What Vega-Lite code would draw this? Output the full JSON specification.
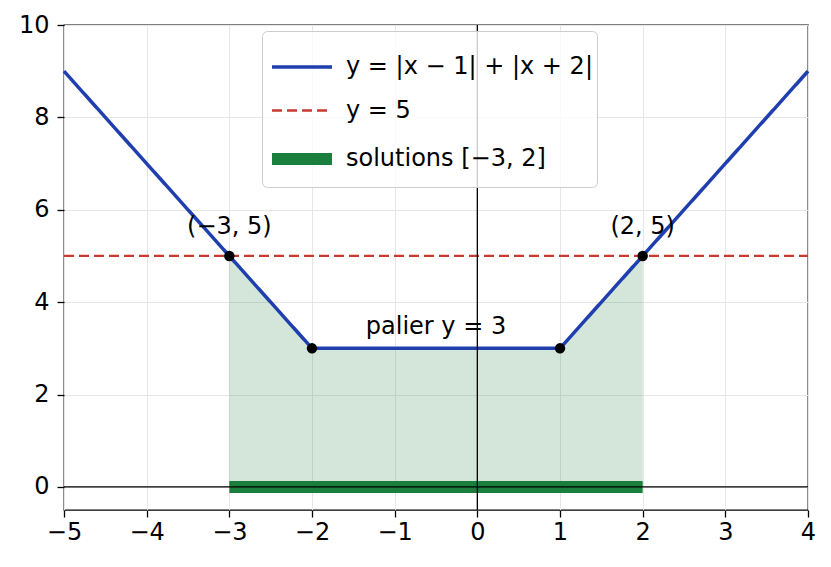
{
  "$schema": "https://vega.github.io/schema/vega-lite/v6.json",
  "width": 744,
  "height": 485,
  "autosize": "none",
  "padding": {"left": 64, "top": 25, "right": 23, "bottom": 57},
  "background": "white",
  "datasets": {
    "lines": [
      {"series": "y = |x − 1| + |x + 2|", "x": -5, "y": 9},
      {"series": "y = |x − 1| + |x + 2|", "x": -2, "y": 3},
      {"series": "y = |x − 1| + |x + 2|", "x": 1, "y": 3},
      {"series": "y = |x − 1| + |x + 2|", "x": 4, "y": 9},
      {"series": "y = 5", "x": -5, "y": 5},
      {"series": "y = 5", "x": 4, "y": 5},
      {"series": "solutions [−3, 2]", "x": -3, "y": 0},
      {"series": "solutions [−3, 2]", "x": 2, "y": 0}
    ],
    "fill": [
      {"x": -3, "y": 5},
      {"x": -2, "y": 3},
      {"x": 1, "y": 3},
      {"x": 2, "y": 5}
    ],
    "labels": [
      {"x": -3, "y": 5.62, "text": "(−3, 5)"},
      {"x": 2, "y": 5.62, "text": "(2, 5)"},
      {"x": -0.5, "y": 3.47, "text": "palier y = 3"}
    ]
  },
  "layer": [
    {
      "data": {"name": "fill"},
      "mark": {"type": "area", "color": "#1a7f3c", "opacity": 0.19, "stroke": "#1a7f3c", "strokeOpacity": 0.15, "strokeWidth": 1},
      "encoding": {
        "x": {
          "field": "x",
          "type": "quantitative",
          "scale": {"domain": [-5, 4], "nice": false, "zero": false},
          "axis": {"values": [-5, -4, -3, -2, -1, 0, 1, 2, 3, 4], "format": "d", "title": null, "labelPadding": 3}
        },
        "y": {
          "field": "y",
          "type": "quantitative",
          "scale": {"domain": [-0.5, 10], "nice": false, "zero": false},
          "axis": {"values": [0, 2, 4, 6, 8, 10], "format": "d", "title": null, "labelPadding": 8}
        },
        "y2": {"datum": 0}
      }
    },
    {
      "data": {"name": "lines"},
      "mark": {"type": "line", "strokeCap": "butt"},
      "encoding": {
        "x": {"field": "x", "type": "quantitative", "scale": {"domain": [-5, 4]}},
        "y": {"field": "y", "type": "quantitative", "scale": {"domain": [-0.5, 10]}},
        "color": {
          "field": "series",
          "type": "nominal",
          "scale": {
            "domain": ["y = |x − 1| + |x + 2|", "y = 5", "solutions [−3, 2]"],
            "range": ["#1f3fae", "#c83a2f", "#1a7f3c"]
          },
          "legend": {
            "title": null,
            "orient": "none",
            "legendX": 198,
            "legendY": 6,
            "symbolType": "stroke",
            "symbolSize": 3600,
            "labelFontSize": 24,
            "labelOffset": 8,
            "labelLimit": 500,
            "rowPadding": -12,
            "padding": 4,
            "cornerRadius": 5,
            "strokeColor": "#cccccc",
            "fillColor": "rgba(255,255,255,0.8)"
          }
        },
        "strokeDash": {
          "field": "series",
          "type": "nominal",
          "scale": {
            "type": "ordinal",
            "domain": ["y = |x − 1| + |x + 2|", "y = 5", "solutions [−3, 2]"],
            "range": [[1, 0], [10, 5], [1, 0]]
          },
          "legend": null
        },
        "strokeWidth": {
          "field": "series",
          "type": "nominal",
          "scale": {
            "type": "ordinal",
            "domain": ["y = |x − 1| + |x + 2|", "y = 5", "solutions [−3, 2]"],
            "range": [3.5, 2.3, 12]
          },
          "legend": null
        }
      }
    },
    {
      "data": {"values": [{}]},
      "mark": {"type": "rule", "color": "black", "strokeWidth": 1.3},
      "encoding": {"x": {"datum": 0, "type": "quantitative"}}
    },
    {
      "data": {"values": [{}]},
      "mark": {"type": "rule", "color": "black", "strokeWidth": 1.3},
      "encoding": {"y": {"datum": 0, "type": "quantitative"}}
    },
    {
      "data": {"name": "fill"},
      "mark": {"type": "circle", "color": "black", "opacity": 1, "size": 110},
      "encoding": {
        "x": {"field": "x", "type": "quantitative"},
        "y": {"field": "y", "type": "quantitative"}
      }
    },
    {
      "data": {"name": "labels"},
      "mark": {"type": "text", "fontSize": 24, "color": "black", "align": "center", "baseline": "middle"},
      "encoding": {
        "x": {"field": "x", "type": "quantitative"},
        "y": {"field": "y", "type": "quantitative"},
        "text": {"field": "text"}
      }
    }
  ],
  "config": {
    "font": "DejaVu Sans",
    "view": {"stroke": "black", "strokeWidth": 1.3},
    "axis": {
      "domain": false,
      "labelFontSize": 24,
      "labelColor": "black",
      "labelFont": "DejaVu Sans",
      "labelFlush": false,
      "labelOverlap": false,
      "labelBound": false,
      "tickColor": "black",
      "tickSize": 7,
      "tickWidth": 1.3,
      "gridColor": "#e6e6e6",
      "gridWidth": 1
    },
    "legend": {"labelFont": "DejaVu Sans", "labelColor": "black"}
  }
}
